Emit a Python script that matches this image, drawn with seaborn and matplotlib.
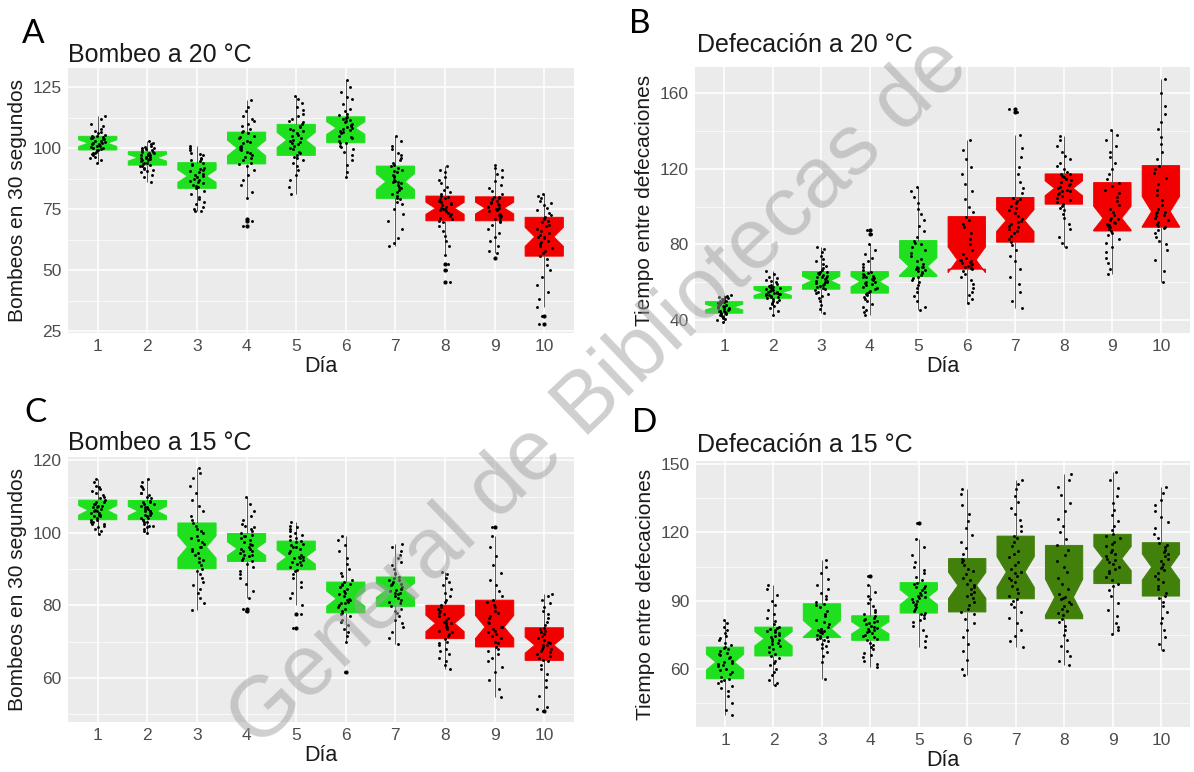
import numpy as np
import pandas as pd
import matplotlib
matplotlib.use("Agg")
import matplotlib.pyplot as plt
import seaborn as sns

# ---------------- data ----------------
dias = [str(i) for i in range(1, 11)]

bombeo_20 = [
    [94, 95, 96, 96.5, 97, 97.5, 98, 98, 98.5, 99, 99.2, 99.5, 100, 100, 100.5, 101, 101, 101.5, 101.5, 102, 102, 102.5, 103, 103, 103.5, 103.5, 104, 104, 104.5, 104.5, 104.8, 105, 105.5, 106, 106.5, 107, 108, 109, 110, 112, 113],
    [86, 88, 89, 90, 90.5, 91, 91.5, 92, 92.5, 92.5, 93, 93.5, 94, 94, 94.5, 95, 95, 95.5, 95.5, 96, 96, 96.5, 96.5, 97, 97, 97, 97.5, 98, 98, 98.5, 98.5, 99, 99, 99.5, 100, 100, 100.5, 101, 101.5, 102, 103],
    [74, 74, 75, 76, 77, 78, 79, 80, 81, 82.5, 83.5, 84, 84.5, 85, 85.5, 86, 86.5, 87, 87.5, 88, 88.5, 89, 89.5, 90, 90.5, 91, 91.5, 92, 93, 93.5, 94, 94.5, 95, 95.5, 96, 97, 97.5, 98, 99, 100, 101],
    [68, 70, 71, 79.5, 82, 85, 87, 89, 91, 92.5, 93.5, 94, 95, 96, 96.5, 97, 98, 98.5, 99, 99.5, 100, 100.5, 101, 102, 102.5, 103, 104, 104.5, 105, 106, 106.5, 107, 108, 109, 110, 111, 112, 113, 115, 117, 119.5],
    [81, 84, 87, 89, 91, 92.5, 94, 95, 96, 96.5, 97, 98, 98.5, 99.5, 100, 101, 101.5, 102, 102.5, 103, 103.3, 104, 105, 105.5, 106, 107, 107.5, 108, 108.5, 109, 109.7, 110.5, 111, 112, 113, 114, 115.5, 117, 118.5, 120, 121.5],
    [88, 90, 93, 95, 97, 98.5, 99.5, 100.5, 101, 102, 102.2, 103, 104, 104.5, 105, 106, 106.5, 107, 107.5, 108, 108.2, 108.5, 109, 109.5, 110, 110.5, 111, 111.5, 112, 112.5, 112.8, 113.5, 114, 115, 116, 118, 120, 121, 123, 125, 128],
    [60, 61, 63, 67, 70, 73, 75, 77, 78, 79, 79.4, 80.5, 81, 82, 83, 83.5, 84, 85, 85.5, 86, 86.2, 86.5, 87, 88, 88.5, 89, 90, 90.5, 91, 92, 92.6, 93, 94, 95, 96, 97, 98, 99.5, 101, 103, 105],
    [45, 50, 52.5, 56, 60, 62, 64, 66, 68, 69.5, 70.2, 71, 71.5, 72, 73, 73.5, 74, 74.5, 75, 75, 75.3, 76, 76.5, 77, 77.5, 78, 78.5, 79, 79.5, 80, 80.3, 81, 82, 83, 84, 85.5, 87, 88, 90, 91, 92.5],
    [55, 57, 58, 60, 62, 63.5, 65, 67, 68.5, 69.5, 70.2, 71, 71.5, 72, 72.5, 73, 74, 74.5, 75, 75, 75.4, 76, 76.5, 77, 77.5, 78, 78.5, 79, 79.5, 80, 80, 81, 82.5, 83.5, 85, 86.5, 88, 89.5, 91, 92, 93],
    [28, 31, 35, 38, 41, 44, 47, 50, 52, 54.5, 55.7, 57, 58, 59, 60, 60.5, 61.5, 62, 63, 63.5, 63.6, 64.5, 65, 66, 67, 68, 68.5, 69.5, 70, 71, 71.6, 72.5, 73.5, 74.5, 75.5, 76.5, 77.5, 78.5, 79.5, 80.5, 81],
]

defecacion_20 = [
    [39, 40, 40.5, 41, 41.5, 42, 42.5, 43, 43, 43.5, 43.6, 44, 44.5, 45, 45, 45.5, 46, 46, 46.5, 46.5, 46.8, 47, 47.5, 47.5, 48, 48, 48.5, 49, 49, 49.5, 49.7, 50, 50, 50.5, 51, 51, 51.5, 52, 52, 52.5, 53],
    [42.7, 45, 46.5, 47.5, 48.5, 49, 49.5, 50, 50.5, 51, 51.5, 52, 52, 52.5, 53, 53, 53.5, 54, 54, 54.5, 54.5, 55, 55, 55.5, 56, 56, 56.5, 57, 57, 57.5, 57.7, 58, 58.5, 59, 60, 60.5, 61, 62, 63, 64.5, 66],
    [43.7, 46, 48, 50, 51.5, 52.5, 53.5, 54.5, 55, 56, 56.3, 57, 57.5, 58, 58.5, 59, 59.5, 60, 60, 60.5, 60.8, 61.5, 62, 62.5, 63, 63.5, 64, 64.5, 65, 65.5, 65.6, 66.5, 67.5, 68.5, 69.5, 71, 72.5, 74, 76, 77.5, 78.8],
    [42.7, 44, 45.5, 47, 48.5, 50, 51, 52, 53, 53.5, 54.2, 55, 55.5, 56.5, 57, 57.5, 58.5, 59, 59.5, 60, 60.3, 61, 61.5, 62, 62.5, 63, 63.5, 64, 64.5, 65, 65.6, 66.5, 68, 69.5, 71, 73, 75, 77, 80, 85.5, 87.7],
    [45.3, 47, 50, 52.5, 55, 57, 58.5, 60, 61, 62, 63, 64, 65, 65.5, 66, 66.5, 67, 67.5, 68, 68, 68.3, 69.5, 71, 72.5, 74, 75.5, 77, 78.5, 80, 81, 82, 84, 87, 90, 93, 96, 99, 102, 105, 108, 110.5],
    [48.9, 51, 53, 55, 57, 59, 61, 63, 64.5, 66, 66.9, 67.5, 68, 68.5, 69, 69.5, 70, 70.5, 71, 71.5, 71.8, 73, 75, 77, 80, 83, 86, 89, 91, 93, 94.7, 97, 100, 104, 108, 112, 117, 121, 125, 130, 135.3],
    [46.2, 50, 55, 59, 63, 67, 71, 74, 77, 79.5, 81.2, 83, 84.5, 86, 87, 88, 89, 90, 91, 92, 92.6, 93.5, 95, 96.5, 98, 99.5, 100.5, 102, 103, 104, 104.8, 107, 110, 113, 117, 121, 126, 131, 138, 150, 151.5],
    [78.8, 81, 84, 88, 91, 94, 96, 98, 99.5, 100.5, 101.3, 102.5, 103.5, 104.5, 105.5, 106.5, 107, 108, 108.5, 109, 109.7, 110.5, 111.5, 112, 113, 114, 114.5, 115.5, 116, 117, 117.3, 118.5, 120, 121.5, 123, 125, 127, 129, 132, 135, 137.4],
    [64.4, 67, 70, 73, 76, 78.5, 81, 83, 85, 86, 87.1, 88, 89, 90, 90.5, 91, 91.5, 92, 93, 93.5, 93.9, 95.5, 97, 99, 101, 103, 105, 107, 109, 111, 112.7, 114.5, 117, 120, 123, 126, 129, 132, 135, 138, 140.6],
    [60.3, 66, 72, 77, 80, 82, 84, 86, 87.5, 88.5, 89.1, 90, 91, 92, 93, 94, 95, 95.5, 96.5, 97, 97.4, 99, 101, 103.5, 106, 109, 112, 115, 118, 120, 121.7, 125, 129, 133, 137, 141, 145, 149, 153, 160, 167.4],
]

bombeo_15 = [
    [99.6, 100.5, 101, 101.5, 102, 102.5, 102.5, 103, 103, 103.5, 103.6, 104, 104.5, 104.5, 105, 105, 105.5, 105.5, 106, 106, 106.2, 106.5, 107, 107, 107.5, 107.5, 108, 108, 108.5, 108.5, 109, 109.5, 110, 110.5, 111, 111.5, 112, 112.5, 113, 114, 114.7],
    [100, 100.5, 101, 101.5, 102, 102, 102.5, 103, 103, 103.5, 103.6, 104, 104, 104.5, 105, 105, 105.5, 105.5, 106, 106, 106, 106.5, 106.5, 107, 107, 107.5, 108, 108, 108.5, 108.5, 108.9, 109.5, 110, 110.5, 111, 111, 112, 112.5, 113, 114, 114.8],
    [78.6, 80.5, 82, 83.5, 84.5, 85.5, 86.5, 87.5, 88.5, 89.5, 90.1, 91, 92, 92.5, 93, 94, 94.5, 95, 95.5, 96, 96.1, 97, 97.5, 98, 98.5, 99, 100, 100.5, 101, 102, 102.7, 103.5, 104.5, 106, 107.5, 109, 111, 113, 115, 116.5, 118],
    [78.5, 79, 82, 84, 86, 87.5, 88.5, 89.5, 90.5, 91.5, 92.1, 92.5, 93, 93.5, 94, 94, 94.5, 95, 95, 95.5, 95.6, 96, 96.5, 97, 97.5, 98, 98.5, 99, 99, 99.5, 99.8, 100.5, 101, 101.5, 102, 102.5, 103.5, 104.5, 106, 108, 109.9],
    [73.8, 77.5, 80, 82, 83.5, 85, 86.5, 87.5, 88.5, 89.5, 89.8, 90.5, 91, 91.5, 92, 92, 92.5, 93, 93, 93.3, 93.3, 94, 94.5, 95, 95.5, 96, 96, 96.5, 97, 97.5, 97.7, 98, 98.5, 99, 99.5, 100, 100.5, 101, 101.5, 102, 103],
    [61.6, 70, 71.5, 72.5, 73.5, 74.5, 75.5, 76, 77, 77.5, 77.9, 78.5, 79, 79.5, 80, 80.5, 80.5, 81, 81.5, 81.5, 81.8, 82.5, 83, 83.5, 84, 84.5, 85, 85.5, 86, 86, 86.4, 87, 88, 89, 90, 91.5, 93, 95, 96.5, 98, 99],
    [69.4, 71, 72.5, 74, 75, 76, 77, 78, 78.5, 79, 79.7, 80.5, 81, 81.5, 82, 82.5, 83, 83.5, 83.5, 84, 84.1, 84.5, 85, 85.5, 86, 86, 86.5, 87, 87, 87.5, 87.8, 88.5, 89, 90, 91, 92, 93, 94, 95, 96, 97],
    [62.5, 63.5, 64.5, 65.5, 66.5, 67.5, 68, 69, 69.5, 70, 70.8, 71.5, 72, 72.5, 73, 73.5, 74, 74, 74.5, 75, 75, 75.5, 76, 76.5, 77, 77.5, 78, 78.5, 79, 79.5, 80, 81, 81.5, 82.5, 83.5, 84.5, 85.5, 86.5, 87.5, 88.5, 89.2],
    [54.7, 57, 59.5, 61.5, 63, 64.5, 65.5, 66.5, 67.5, 68, 68.5, 69.5, 70, 71, 71.5, 72, 72.5, 73, 73.5, 74, 74, 75, 75.5, 76.5, 77, 78, 78.5, 79.5, 80, 81, 81.4, 82.5, 84, 85.5, 87, 89, 91, 93.5, 96, 99, 101.6],
    [50.8, 51.5, 52, 55, 57.5, 59.5, 61, 62.5, 63.5, 64.5, 64.8, 65.5, 66, 66.5, 67, 67.5, 68, 68, 68.5, 69, 69, 69.5, 70, 70.5, 71, 71.5, 72, 72.5, 73, 73.5, 73.8, 74.5, 75.5, 76.5, 77.5, 78.5, 79.5, 80.5, 81.5, 82.5, 83.2],
]

defecacion_15 = [
    [39.4, 42, 45, 48, 50, 51.5, 52.5, 53.5, 54.5, 55, 55.6, 56.5, 57.5, 58.5, 59.5, 60, 61, 61.5, 62, 62.5, 62.9, 63.5, 64.5, 65, 66, 66.5, 67, 68, 68.5, 69, 69.5, 70.5, 71.5, 72.5, 73.5, 74.5, 75.5, 77, 78.5, 80, 81.6],
    [52.6, 53.5, 55, 57, 58.5, 60, 61.5, 62.5, 63.5, 64.5, 65.6, 66.5, 67.5, 68.5, 69.5, 70, 71, 71.5, 72, 72.5, 73.2, 74, 74.5, 75, 75.5, 76, 76.5, 77, 77.5, 78, 78.3, 79.5, 81, 82.5, 84, 86, 88, 90, 92.5, 95, 97],
    [55.6, 63, 65.5, 67.5, 69, 70, 71, 72, 72.5, 73, 73.7, 74, 74.5, 75, 75.5, 76, 76.5, 76.5, 77, 77.5, 77.6, 78.5, 79.5, 80.5, 81.5, 83, 84, 85.5, 87, 88, 88.6, 89.5, 90.5, 92, 93.5, 95, 97, 99.5, 102, 105, 107.7],
    [60.7, 62, 63.5, 65, 66, 67, 68.5, 69.5, 70.5, 71.5, 72.5, 73, 74, 74.5, 75, 75.5, 76, 76.5, 77, 77.5, 78, 78.5, 79, 79.5, 80, 80.5, 81, 81.5, 82, 82.5, 83.3, 84, 85, 86, 87.5, 89, 90.5, 92, 94, 97, 101],
    [69.5, 72, 74.5, 77, 79, 80.5, 81.5, 82.5, 83.5, 84, 84.5, 85.5, 86.5, 87, 88, 88.5, 89.5, 90, 90.5, 91, 91.5, 92, 92.5, 93.5, 94, 94.5, 95.5, 96, 96.5, 97.5, 97.9, 99, 100.5, 102, 103.5, 105, 107, 110, 113.5, 117, 124],
    [57, 60, 64, 68, 71, 74, 77, 80, 82, 84, 85, 86.5, 88, 89.5, 91, 92, 93, 94, 95, 96, 96.7, 97.5, 99, 100, 101.5, 103, 104, 105.5, 107, 108, 108.5, 110.5, 113, 116, 119, 122, 125, 128, 132, 137, 139.3],
    [69.5, 72, 74.5, 77, 80, 82.5, 85, 87, 88.5, 90, 90.8, 92, 93.5, 95, 96.5, 98, 99, 100, 101, 102, 102.6, 104, 105.5, 107, 109, 110.5, 112, 114, 116, 117.5, 118.4, 120.5, 123, 125.5, 128, 131, 133.5, 136, 139, 141.5, 143.3],
    [61.5, 63.5, 65.5, 68, 70, 72.5, 75, 77, 79, 80.5, 82, 83.5, 84.5, 85.5, 86.5, 87.5, 88.5, 89.5, 90.5, 91, 91.5, 93, 95, 97.5, 100, 102.5, 105, 107.5, 110, 112.5, 114.3, 117, 120, 123, 126, 129.5, 133, 136.5, 140, 143, 145.9],
    [75.4, 77, 78.5, 80, 83, 86, 89, 92, 94.5, 96.5, 97.5, 99, 100.5, 102, 103, 104, 105, 106, 107, 108, 108.5, 109.5, 110.5, 111.5, 112.5, 114, 115, 116, 117.5, 118.5, 119.2, 121, 123, 125, 127.5, 130, 133, 136, 139.5, 143, 146.6],
    [68.4, 71, 74, 77, 80, 82.5, 85, 87.5, 89.5, 91, 92, 93.5, 95, 96.5, 98, 99.5, 101, 102, 103.5, 104.5, 104.8, 106, 107.5, 108.5, 109.5, 110.5, 111.5, 112.5, 113.5, 114.5, 115.5, 117.5, 119.5, 122, 124.5, 127, 129.5, 132, 134.5, 137.5, 140],
]

VERDE, ROJO, VERDE_OSC = "#1EE01E", "#F20000", "#41800A"
colores_A = [VERDE] * 7 + [ROJO] * 3
colores_B = [VERDE] * 5 + [ROJO] * 5
colores_C = [VERDE] * 7 + [ROJO] * 3
colores_D = [VERDE] * 5 + [VERDE_OSC] * 5

# ---------------- style ----------------
sns.set_theme(style="darkgrid", rc={
    "axes.facecolor": "#EBEBEB",
    "grid.color": "white",
    "axes.edgecolor": "#EBEBEB",
})
plt.rcParams["font.family"] = ["Liberation Sans", "DejaVu Sans"]

W, H = 1194, 772
fig = plt.figure(figsize=(W / 100, H / 100), dpi=100)


def px_axes(left, top, right, bottom):
    return fig.add_axes([left / W, 1 - bottom / H, (right - left) / W, (bottom - top) / H])


def panel(ax, data, colors, yticks, ylim, yminor, ylabel, seed):
    df = pd.DataFrame({
        "Día": np.repeat(dias, [len(v) for v in data]),
        "valor": np.concatenate([np.asarray(v, dtype=float) for v in data]),
    })
    sns.boxplot(data=df, x="Día", y="valor", hue="Día", order=dias, hue_order=dias,
                palette=dict(zip(dias, colors)), saturation=1, notch=True, width=0.77,
                showcaps=False, linecolor="#5A5A5A", linewidth=0.7, fliersize=2.0,
                flierprops={"marker": "o", "markerfacecolor": "black", "markeredgecolor": "black"},
                medianprops={"visible": False}, legend=False, ax=ax)
    for p in ax.patches:
        p.set_edgecolor(p.get_facecolor())
    np.random.seed(seed)
    sns.stripplot(data=df, x="Día", y="valor", order=dias, color="black", size=2.1,
                  jitter=0.15, linewidth=0, ax=ax)
    ax.set_xlim(-0.6, 9.6)
    ax.set_ylim(*ylim)
    ax.set_yticks(yticks)
    ax.set_yticks(yminor, minor=True)
    ax.grid(True, which="major", color="white", linewidth=1.1)
    ax.grid(True, which="minor", axis="y", color="white", linewidth=0.5)
    ax.set_axisbelow(True)
    for s in ax.spines.values():
        s.set_visible(False)
    ax.tick_params(which="major", length=3, width=0.6, color="#333333",
                   labelcolor="#4D4D4D", labelsize=12.5, pad=1.5)
    ax.tick_params(which="minor", length=0)
    ax.set_xlabel("Día", fontsize=15.5, color="#1A1A1A", labelpad=1)
    ax.set_ylabel(ylabel, fontsize=15, color="#1A1A1A", labelpad=4)


axA = px_axes(68, 68, 574, 333)
panel(axA, bombeo_20, colores_A, [25, 50, 75, 100, 125], (24.2, 132.8),
      [37.5, 62.5, 87.5, 112.5], "Bombeos en 30 segundos", 1)
axB = px_axes(695, 67, 1190, 333)
panel(axB, defecacion_20, colores_B, [40, 80, 120, 160], (33.1, 173.9),
      [60, 100, 140], "Tiempo entre defecaciones", 2)
axC = px_axes(68, 457, 574, 722)
panel(axC, bombeo_15, colores_C, [60, 80, 100, 120], (47.8, 120.9),
      [50, 70, 90, 110], "Bombeos en 30 segundos", 3)
axD = px_axes(696, 461, 1190, 727)
panel(axD, defecacion_15, colores_D, [60, 90, 120, 150], (34.3, 151.5),
      [45, 75, 105, 135], "Tiempo entre defecaciones", 4)


def ftext(x, y, s, **kw):
    fig.text(x / W, 1 - y / H, s, va="baseline", ha="left", **kw)


# panel titles
ftext(68, 62, "Bombeo a 20 °C", fontsize=18, color="#1A1A1A")
ftext(697, 52, "Defecación a 20 °C", fontsize=18, color="#1A1A1A")
ftext(68, 450, "Bombeo a 15 °C", fontsize=18, color="#1A1A1A")
ftext(697, 452, "Defecación a 15 °C", fontsize=18, color="#1A1A1A")

# panel letters
for x, y, s in [(22, 43, "A"), (629, 33, "B"), (24, 422, "C"), (632, 432, "D")]:
    ftext(x, y, s, fontsize=24, color="black", family=["Lato", "DejaVu Sans"])

# watermark
fig.text(258 / W, 1 - 750 / H, "General de Bibliotecas de", rotation=43.7,
         rotation_mode="anchor", ha="left", va="baseline", fontsize=62,
         color="#A0A0A0", alpha=0.5, zorder=100)

fig.savefig("out.png", dpi=100)
